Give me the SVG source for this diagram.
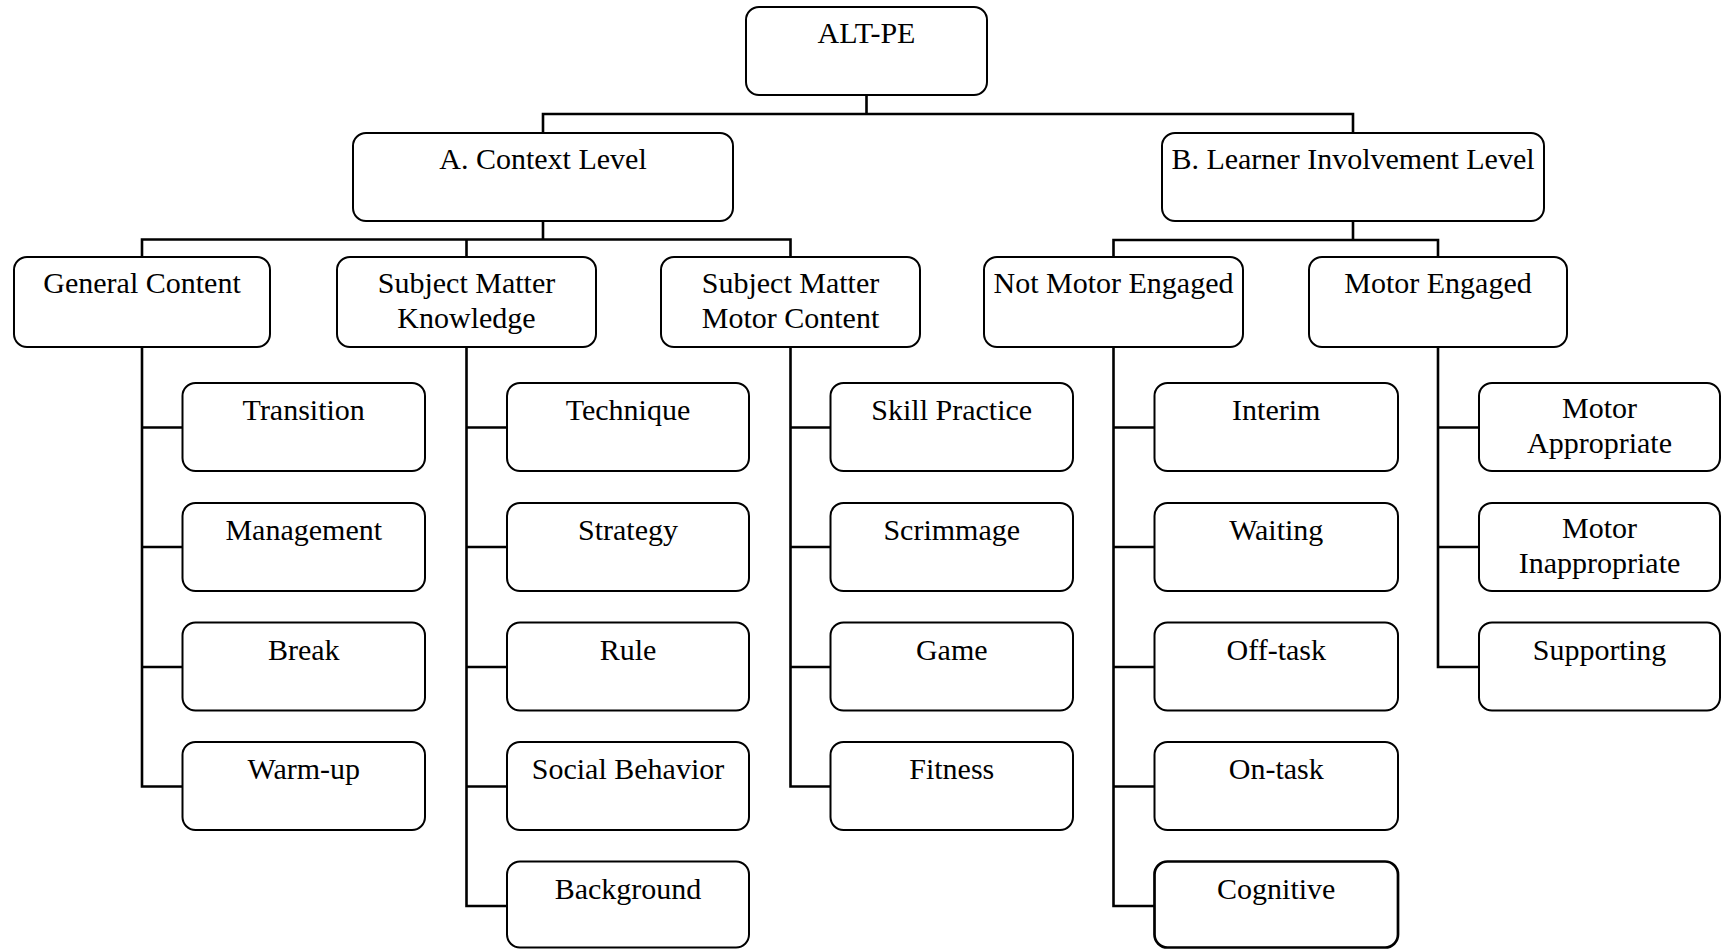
<svg xmlns="http://www.w3.org/2000/svg" width="1731" height="949" viewBox="0 0 1731 949">
<style>
.box{fill:#fff;stroke:#000;stroke-width:2}
.thick{stroke-width:2.7}
.lbl{font-family:"Liberation Serif","Times New Roman",serif;font-size:30px;fill:#000;text-anchor:middle}
.con{fill:none;stroke:#000;stroke-width:2.6;stroke-linecap:square}
</style>
<rect width="1731" height="949" fill="#fff"/>
<g id="connectors">
<path class="con" d="M866.5,95V114M543,133V114H1353V133"/>
<path class="con" d="M543,221V239.5M142,257V239.5H790.5V257M466.5,239.5V257"/>
<path class="con" d="M1353,221V240M1113.5,257V240H1438V257"/>
<path class="con" d="M142,347V786.5M142,427.5H182.5M142,547H182.5M142,667H182.5M142,786.5H182.5"/>
<path class="con" d="M466.5,347V906M466.5,427.5H507M466.5,547H507M466.5,667H507M466.5,786.5H507M466.5,906H507"/>
<path class="con" d="M790.5,347V786.5M790.5,427.5H830.5M790.5,547H830.5M790.5,667H830.5M790.5,786.5H830.5"/>
<path class="con" d="M1113.5,347V906M1113.5,427.5H1154.5M1113.5,547H1154.5M1113.5,667H1154.5M1113.5,786.5H1154.5M1113.5,906H1154.5"/>
<path class="con" d="M1438,347V667M1438,427.5H1479M1438,547H1479M1438,667H1479"/>
</g>
<g id="root"><rect class="box" x="746" y="7" width="241" height="88" rx="13"/><text class="lbl" x="866.5" y="43">ALT-PE</text></g>
<g id="context"><rect class="box" x="353" y="133" width="380" height="88" rx="13"/><text class="lbl" x="543" y="169">A. Context Level</text></g>
<g id="learner"><rect class="box" x="1162" y="133" width="382" height="88" rx="13"/><text class="lbl" x="1353" y="169">B. Learner Involvement Level</text></g>
<g id="general"><rect class="box" x="14" y="257" width="256" height="90" rx="13"/><text class="lbl" x="142" y="293">General Content</text></g>
<g id="smk"><rect class="box" x="337" y="257" width="259" height="90" rx="13"/><text class="lbl" x="466.5" y="293">Subject Matter</text><text class="lbl" x="466.5" y="328">Knowledge</text></g>
<g id="smmc"><rect class="box" x="661" y="257" width="259" height="90" rx="13"/><text class="lbl" x="790.5" y="293">Subject Matter</text><text class="lbl" x="790.5" y="328">Motor Content</text></g>
<g id="nme"><rect class="box" x="984" y="257" width="259" height="90" rx="13"/><text class="lbl" x="1113.5" y="293">Not Motor Engaged</text></g>
<g id="me"><rect class="box" x="1309" y="257" width="258" height="90" rx="13"/><text class="lbl" x="1438" y="293">Motor Engaged</text></g>

<g id="transition"><rect class="box" x="182.5" y="383" width="242.5" height="88" rx="13"/><text class="lbl" x="303.75" y="420">Transition</text></g>
<g id="management"><rect class="box" x="182.5" y="503" width="242.5" height="88" rx="13"/><text class="lbl" x="303.75" y="540">Management</text></g>
<g id="break"><rect class="box" x="182.5" y="622.5" width="242.5" height="88" rx="13"/><text class="lbl" x="303.75" y="659.5">Break</text></g>
<g id="warmup"><rect class="box" x="182.5" y="742" width="242.5" height="88" rx="13"/><text class="lbl" x="303.75" y="779">Warm-up</text></g>

<g id="technique"><rect class="box" x="507" y="383" width="242" height="88" rx="13"/><text class="lbl" x="628" y="420">Technique</text></g>
<g id="strategy"><rect class="box" x="507" y="503" width="242" height="88" rx="13"/><text class="lbl" x="628" y="540">Strategy</text></g>
<g id="rule"><rect class="box" x="507" y="622.5" width="242" height="88" rx="13"/><text class="lbl" x="628" y="659.5">Rule</text></g>
<g id="social"><rect class="box" x="507" y="742" width="242" height="88" rx="13"/><text class="lbl" x="628" y="779">Social Behavior</text></g>
<g id="background"><rect class="box" x="507" y="861.5" width="242" height="86" rx="13"/><text class="lbl" x="628" y="898.5">Background</text></g>

<g id="skill"><rect class="box" x="830.5" y="383" width="242.5" height="88" rx="13"/><text class="lbl" x="951.75" y="420">Skill Practice</text></g>
<g id="scrimmage"><rect class="box" x="830.5" y="503" width="242.5" height="88" rx="13"/><text class="lbl" x="951.75" y="540">Scrimmage</text></g>
<g id="game"><rect class="box" x="830.5" y="622.5" width="242.5" height="88" rx="13"/><text class="lbl" x="951.75" y="659.5">Game</text></g>
<g id="fitness"><rect class="box" x="830.5" y="742" width="242.5" height="88" rx="13"/><text class="lbl" x="951.75" y="779">Fitness</text></g>

<g id="interim"><rect class="box" x="1154.5" y="383" width="243.5" height="88" rx="13"/><text class="lbl" x="1276.25" y="420">Interim</text></g>
<g id="waiting"><rect class="box" x="1154.5" y="503" width="243.5" height="88" rx="13"/><text class="lbl" x="1276.25" y="540">Waiting</text></g>
<g id="offtask"><rect class="box" x="1154.5" y="622.5" width="243.5" height="88" rx="13"/><text class="lbl" x="1276.25" y="659.5">Off-task</text></g>
<g id="ontask"><rect class="box" x="1154.5" y="742" width="243.5" height="88" rx="13"/><text class="lbl" x="1276.25" y="779">On-task</text></g>
<g id="cognitive"><rect class="box thick" x="1154.5" y="861.5" width="243.5" height="86" rx="13"/><text class="lbl" x="1276.25" y="898.5">Cognitive</text></g>

<g id="appropriate"><rect class="box" x="1479" y="383" width="241" height="88" rx="13"/><text class="lbl" x="1599.5" y="418">Motor</text><text class="lbl" x="1599.5" y="452.5">Appropriate</text></g>
<g id="inappropriate"><rect class="box" x="1479" y="503" width="241" height="88" rx="13"/><text class="lbl" x="1599.5" y="538">Motor</text><text class="lbl" x="1599.5" y="572.5">Inappropriate</text></g>
<g id="supporting"><rect class="box" x="1479" y="622.5" width="241" height="88" rx="13"/><text class="lbl" x="1599.5" y="659.5">Supporting</text></g>
</svg>
